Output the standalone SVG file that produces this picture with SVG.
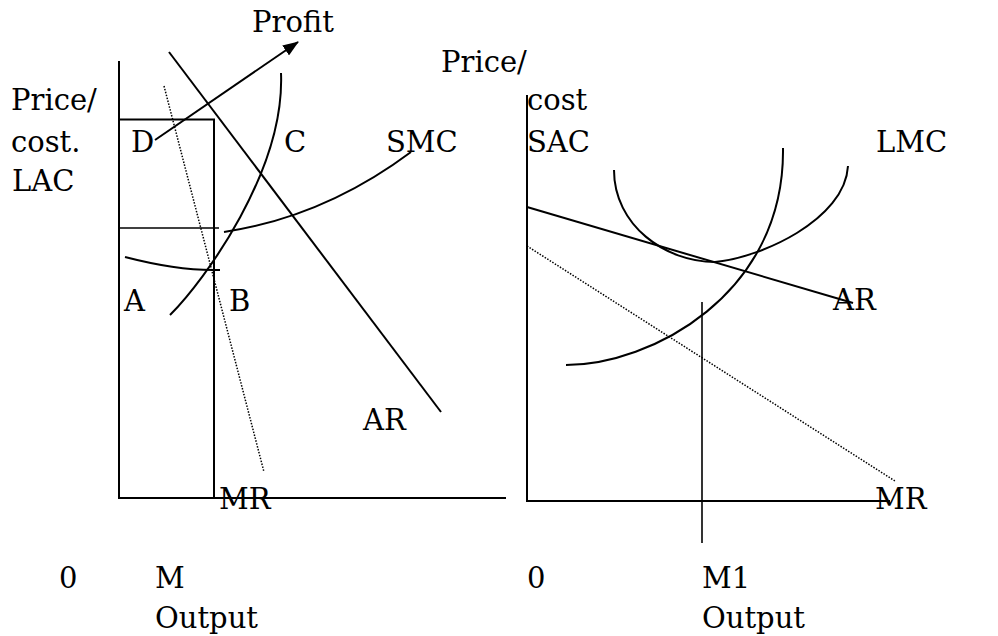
<svg xmlns="http://www.w3.org/2000/svg" width="998" height="636" viewBox="0 0 998 636">
<defs>
<style>
.ln{fill:none;stroke:#000;stroke-width:2}
.th{fill:none;stroke:#000;stroke-width:1.6}
.dt{fill:none;stroke:#000;stroke-width:1.5;stroke-dasharray:1.5 1.5}
text{font-family:"DejaVu Serif","Liberation Serif",serif;font-size:29px;fill:#000}
</style>
<marker id="ah" markerWidth="16" markerHeight="12" refX="15" refY="6" orient="auto" markerUnits="userSpaceOnUse">
<path d="M0,0 L16,6 L0,12 Z" fill="#000"/>
</marker>
</defs>
<rect width="998" height="636" fill="#fff"/>
<g id="left-panel">
<path class="ln" d="M119,61 V498 H506"/>
<path class="ln" d="M214,498 V119.5 H119"/>
<path class="th" d="M119,228 H219"/>
<path class="ln" d="M125,257 Q175,270 213,270 L220,270"/>
<path class="ln" d="M170,315 C205,280 285,170 281,73"/>
<path class="ln" d="M224,232 Q324,217 411,152"/>
<path class="ln" d="M169,52 L441,412"/>
<path class="dt" d="M164,86 L264,472"/>
<path class="ln" d="M155,140 L298,42" marker-end="url(#ah)"/>
</g>
<g id="right-panel">
<path class="ln" d="M527,95 V502"/>
<path class="ln" d="M527,501 H890"/>
<path class="th" d="M702,302 V543"/>
<path class="ln" d="M527,207 L853,303"/>
<path class="dt" d="M527,246 L895,481"/>
<path class="ln" d="M614,170 C614,225 665,262 715,262 C760,258 845,220 848,166"/>
<path class="ln" d="M566,365 C650,365 785,295 783,148"/>
</g>
<g id="labels">
<text x="252" y="32">Profit</text>
<text x="11" y="110">Price/</text>
<text x="11" y="152">cost.</text>
<text x="12" y="191">LAC</text>
<text x="131" y="152">D</text>
<text x="284" y="152">C</text>
<text x="386" y="152">SMC</text>
<text x="124" y="311">A</text>
<text x="229" y="311">B</text>
<text x="363" y="430">AR</text>
<text x="219" y="509">MR</text>
<text x="59" y="588">0</text>
<text x="155" y="588">M</text>
<text x="155" y="628">Output</text>
<text x="441" y="72">Price/</text>
<text x="527" y="110">cost</text>
<text x="527" y="152">SAC</text>
<text x="876" y="152">LMC</text>
<text x="833" y="310">AR</text>
<text x="875" y="509">MR</text>
<text x="527" y="588">0</text>
<text x="702" y="588">M1</text>
<text x="702" y="628">Output</text>
</g>
</svg>
